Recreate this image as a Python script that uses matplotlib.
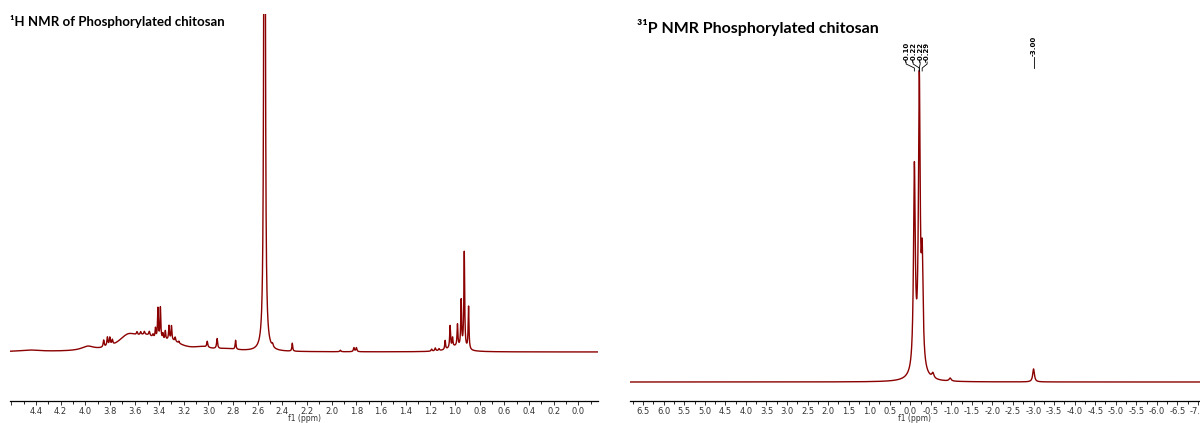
import numpy as np
import matplotlib
matplotlib.use("Agg")
import matplotlib.pyplot as plt
from matplotlib.ticker import MultipleLocator, FuncFormatter
from matplotlib.transforms import blended_transform_factory

plt.rcParams["axes.unicode_minus"] = False

# 1H spectrum: peak list (ppm, height, half width)
h_shift = [4.45, 3.98, 3.65, 3.50, 3.30, 3.05, 2.85, 1.00,
           3.85, 3.82, 3.80, 3.78, 3.58, 3.55, 3.52, 3.48, 3.45,
           3.43, 3.41, 3.39, 3.37, 3.35, 3.32, 3.30, 3.27, 3.24,
           3.01, 2.93, 2.78, 2.545, 2.48, 2.32, 1.93, 1.82, 1.80,
           1.19, 1.16, 1.13, 1.08, 1.04, 1.02, 0.98, 0.95, 0.925, 0.89]
h_height = [1.5, 4, 14, 11, 8, 3, 2, 5,
            7, 9, 8, 5, 3, 3, 3, 4, 3,
            10, 31, 32, 6, 9, 14, 14, 4, 2,
            6, 10, 9, 1500, 3, 8, 1.5, 4, 4,
            2, 3, 2, 9, 22, 9, 22, 47, 97, 43]
h_width = [0.1, 0.06, 0.1, 0.1, 0.1, 0.08, 0.1, 0.07,
           0.005, 0.005, 0.005, 0.005, 0.005, 0.005, 0.005, 0.005, 0.005,
           0.004, 0.004, 0.004, 0.004, 0.004, 0.004, 0.004, 0.004, 0.004,
           0.005, 0.005, 0.004, 0.004, 0.006, 0.004, 0.005, 0.005, 0.005,
           0.005, 0.005, 0.005, 0.004, 0.004, 0.004, 0.004, 0.004, 0.004, 0.004]

# 31P spectrum peak list
p_shift = [-0.10, -0.22, -0.29, -0.20, -0.55, -0.97, -3.00]
p_height = [200, 282, 100, 10, 5, 3, 13]
p_width = [0.025, 0.025, 0.025, 0.15, 0.03, 0.03, 0.025]

p_labels = ["-0.10", "-0.22", "-0.22", "-0.29"]
p_label_shift = [-0.10, -0.22, -0.22, -0.29]


def spectrum(x, shifts, heights, widths):
    y = np.zeros_like(x)
    for s, h, w in zip(shifts, heights, widths):
        y += h * w ** 2 / ((x - s) ** 2 + w ** 2)
    return y


red = "#8b0000"
title_font = ["Lato", "DejaVu Sans"]

fig = plt.figure(figsize=(12, 4.23), dpi=100)
ax1 = fig.add_axes([10 / 1200, 22 / 423, 588 / 1200, 387 / 423])
ax2 = fig.add_axes([630 / 1200, 22 / 423, 570 / 1200, 387 / 423])

x1 = np.linspace(4.61, -0.16, 8000)
ax1.plot(x1, spectrum(x1, h_shift, h_height, h_width), color=red, lw=1.0)
ax1.set_xlim(4.61, -0.16)
ax1.set_ylim(-49, 338)
ax1.xaxis.set_major_locator(MultipleLocator(0.2))
ax1.xaxis.set_minor_locator(MultipleLocator(0.1))
ax1.xaxis.set_major_formatter(FuncFormatter(lambda v, p: "" if v > 4.5 else f"{v:.1f}"))

x2 = np.linspace(6.82, -7.05, 8000)
ax2.plot(x2, spectrum(x2, p_shift, p_height, p_width), color=red, lw=1.0)
ax2.set_xlim(6.82, -7.05)
ax2.set_ylim(-19, 368)
ax2.xaxis.set_major_locator(MultipleLocator(0.5))
ax2.xaxis.set_minor_locator(MultipleLocator(0.25))

for ax in (ax1, ax2):
    for side in ("left", "right", "top"):
        ax.spines[side].set_visible(False)
    ax.spines["bottom"].set_linewidth(0.9)
    ax.set_yticks([])
    ax.tick_params(axis="x", which="major", length=3, width=0.7,
                   labelsize=6, colors="#333333", pad=1)
    ax.tick_params(axis="x", which="minor", length=1.8, width=0.6)
    ax.set_xlabel("f1 (ppm)", fontsize=5.5, labelpad=-1, color="#333333")

ax1.text(10 / 1200, 1 - 22 / 423, "¹H NMR of Phosphorylated chitosan",
         transform=fig.transFigure, fontsize=9.5, fontweight="bold",
         family=title_font, va="center", ha="left")
ax2.text(637 / 1200, 1 - 27 / 423, "³¹P NMR Phosphorylated chitosan",
         transform=fig.transFigure, fontsize=11.5, fontweight="bold",
         family=title_font, va="center", ha="left")

# peak labels
tr = blended_transform_factory(ax2.transData, ax2.transAxes)


def fy(px):
    return (401 - px) / 387


center = -0.155
for i, (lab, s) in enumerate(zip(p_labels, p_label_shift)):
    lx = center - (i - 1.5) * 0.17
    ax2.text(lx, fy(62), lab, transform=tr, rotation=90, fontsize=5,
             fontweight="bold", ha="center", va="bottom", clip_on=False)
    ax2.plot([lx, lx, s, s], [fy(62), fy(64), fy(68), fy(71)], transform=tr,
             color="black", lw=0.6, clip_on=False)

ax2.text(-3.0, fy(56), "-3.00", transform=tr, rotation=90, fontsize=5,
         fontweight="bold", ha="center", va="bottom", clip_on=False)
ax2.plot([-3.0, -3.0], [fy(57), fy(68)], transform=tr, color="black",
         lw=0.6, clip_on=False)

fig.savefig("out.png", dpi=100)
